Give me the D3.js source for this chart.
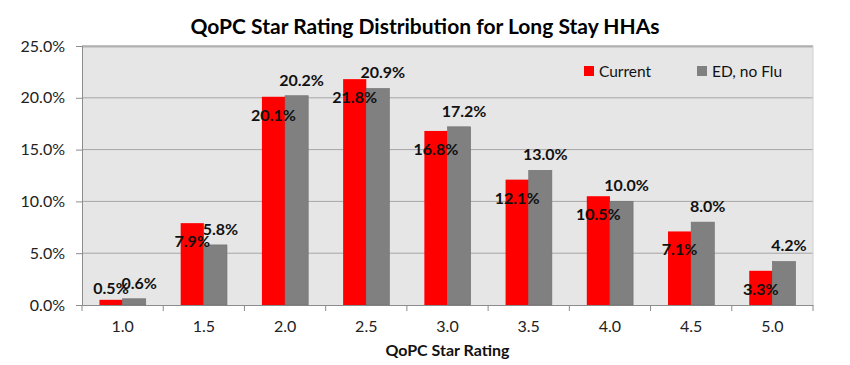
<!DOCTYPE html>
<html>
<head>
<meta charset="utf-8">
<script src="https://cdn.jsdelivr.net/npm/d3@7"></script>
<style>
  body { margin: 0; background: #fff; }
  text { font-family: Lato, 'Open Sans', sans-serif; }
</style>
</head>
<body>
<div id="chart"></div>
<script>
var ratings = ['1.0', '1.5', '2.0', '2.5', '3.0', '3.5', '4.0', '4.5', '5.0']
var current = [0.5, 7.9, 20.1, 21.8, 16.8, 12.1, 10.5, 7.1, 3.3]
var edNoFlu = [0.6, 5.8, 20.2, 20.9, 17.2, 13.0, 10.0, 8.0, 4.2]
var yTicks = [0, 5, 10, 15, 20, 25]
var seriesNames = ['Current', 'ED, no Flu']
var colors = ['#ff0000', '#808080']

var width = 850
var height = 365
var margin = { top: 46, right: 37, bottom: 60, left: 82 }
var plotW = width - margin.left - margin.right
var plotH = height - margin.top - margin.bottom

var svg = d3.select('#chart').append('svg')
  .attr('width', width)
  .attr('height', height)

svg.append('text')
  .attr('x', 425)
  .attr('y', 34)
  .attr('text-anchor', 'middle')
  .style('font-size', '21px')
  .style('font-weight', 'bold')
  .style('fill', '#000')
  .text('QoPC Star Rating Distribution for Long Stay HHAs')

var g = svg.append('g')
  .attr('transform', 'translate(' + margin.left + ',' + margin.top + ')')

var x = d3.scaleBand().domain(ratings).range([0, plotW]).paddingInner(0.43).paddingOuter(0.215)
var x0 = d3.scaleBand().domain(ratings).range([0, plotW])
var y = d3.scaleLinear().domain([0, 25]).range([plotH, 0])

// plot background
g.append('rect')
  .attr('width', plotW)
  .attr('height', plotH)
  .style('fill', '#e6e6e6')

// gridlines
g.selectAll('.grid')
  .data(yTicks.slice(1))
  .enter().append('line')
  .attr('x1', 0)
  .attr('x2', plotW)
  .attr('y1', function (d) { return y(d) })
  .attr('y2', function (d) { return y(d) })
  .style('stroke', '#a6a6a6')
  .style('stroke-width', 1)

g.append('line')
  .attr('x1', 0).attr('x2', plotW).attr('y1', 0.5).attr('y2', 0.5)
  .style('stroke', '#b0b0b0').style('stroke-width', 2)
g.append('line')
  .attr('x1', plotW).attr('x2', plotW).attr('y1', 0).attr('y2', plotH)
  .style('stroke', '#d0d0d0').style('stroke-width', 1)

// y axis
var yAxis = g.append('g')
  .call(d3.axisLeft(y).tickValues(yTicks).tickSize(6).tickPadding(11)
    .tickFormat(function (d) { return d.toFixed(1) + '%' }))
yAxis.select('.domain').style('stroke', '#8c8c8c')
yAxis.selectAll('.tick line').style('stroke', '#8c8c8c')
yAxis.selectAll('text').style('font-size', '16px').style('fill', '#222')
  .style('font-family', 'Lato, sans-serif')

// x axis with ticks between categories
var xAxis = g.append('g')
  .attr('transform', 'translate(0,' + plotH + ')')
  .call(d3.axisBottom(x0).tickSize(0).tickPadding(16))
xAxis.select('.domain').style('stroke', '#8c8c8c')
xAxis.selectAll('text').style('font-size', '16px').style('fill', '#222')
  .style('font-family', 'Lato, sans-serif')
g.selectAll('.xtick')
  .data(d3.range(ratings.length + 1))
  .enter().append('line')
  .attr('x1', function (i) { return i * x0.step() })
  .attr('x2', function (i) { return i * x0.step() })
  .attr('y1', plotH)
  .attr('y2', plotH + 6)
  .style('stroke', '#8c8c8c')

svg.append('text')
  .attr('x', margin.left + plotW / 2)
  .attr('y', 356)
  .attr('text-anchor', 'middle')
  .style('font-size', '16px')
  .style('font-weight', 'bold')
  .style('fill', '#111')
  .text('QoPC Star Rating')

var series = [current, edNoFlu]
var barW = x.bandwidth() / 2

series.forEach(function (vals, si) {
  g.selectAll('.bar' + si)
    .data(vals)
    .enter().append('rect')
    .attr('x', function (d, i) { return x(ratings[i]) + si * barW })
    .attr('y', function (d) { return y(d) })
    .attr('width', barW)
    .attr('height', function (d) { return plotH - y(d) })
    .style('fill', colors[si])
    .style('stroke', si === 0 ? 'none' : '#6e6e6e')
    .style('stroke-width', 0.6)
})

// labels: current inside below top, ED above
series.forEach(function (vals, si) {
  g.selectAll('.lab' + si)
    .data(vals)
    .enter().append('text')
    .attr('x', function (d, i) { return x(ratings[i]) + si * barW + barW / 2 + (si === 1 ? 5 : 0) })
    .attr('y', function (d) {
      if (si === 0) return d < 2 ? y(d) - 6 : y(d) + 24
      return y(d) - 10
    })
    .attr('text-anchor', 'middle')
    .style('font-size', '16px')
    .style('font-weight', 'bold')
    .style('fill', '#111')
    .text(function (d) { return d.toFixed(1) + '%' })
})

// legend
var legend = svg.append('g')
var legX = [584, 697]
seriesNames.forEach(function (name, i) {
  legend.append('rect')
    .attr('x', legX[i]).attr('y', 66).attr('width', 10).attr('height', 10)
    .style('fill', colors[i])
  legend.append('text')
    .attr('x', legX[i] + 15).attr('y', 77)
    .style('font-size', '15.5px')
    .style('fill', '#111')
    .text(name)
})
</script>
</body>
</html>
